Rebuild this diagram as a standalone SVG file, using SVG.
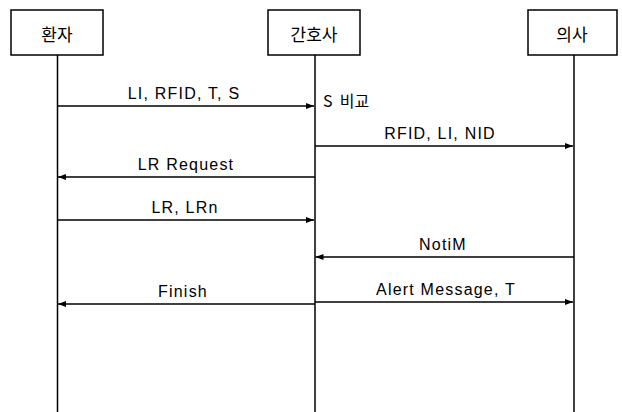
<svg xmlns="http://www.w3.org/2000/svg" width="622" height="412" viewBox="0 0 622 412">
<defs>
<marker id="ah" viewBox="0 0 8 6" refX="8" refY="3" markerWidth="8" markerHeight="6" markerUnits="userSpaceOnUse" orient="auto">
<path d="M0,0 L8,3 L0,6 Z" fill="#000"/>
</marker>
</defs>
<style>
.box{fill:#fff;stroke:#000;stroke-width:1.5}
.life{stroke:#000;stroke-width:1.5;fill:none}
.msg{stroke:#000;stroke-width:1.3;fill:none;marker-end:url(#ah)}
.nt{font-family:"Noto Sans CJK KR","Liberation Sans",sans-serif;font-size:17px;text-anchor:middle;dominant-baseline:central;fill:#000}
.lb{font-family:"Liberation Sans","Noto Sans CJK KR",sans-serif;font-size:16px;letter-spacing:1.2px;text-anchor:middle;fill:#000}
.nk{font-family:"Noto Sans CJK KR","Liberation Sans",sans-serif;font-size:16px;fill:#000}
</style>
<rect width="622" height="412" fill="#fff"/>
<g id="connectors">
<line class="life" x1="57.5" y1="55" x2="57.5" y2="412"/>
<line class="life" x1="315" y1="55" x2="315" y2="412"/>
<line class="life" x1="574" y1="55" x2="574" y2="412"/>
<line class="msg" x1="58" y1="106" x2="314" y2="106"/>
<text class="lb" x="184" y="99">LI, RFID, T, S</text>
<line class="msg" x1="315" y1="146" x2="573" y2="146"/>
<text class="lb" x="440" y="139">RFID, LI, NID</text>
<line class="msg" x1="315" y1="177" x2="58" y2="177"/>
<text class="lb" x="186" y="170">LR Request</text>
<line class="msg" x1="58" y1="220" x2="314" y2="220"/>
<text class="lb" x="185" y="213">LR, LRn</text>
<line class="msg" x1="574" y1="257" x2="315.5" y2="257"/>
<text class="lb" x="443" y="250">NotiM</text>
<line class="msg" x1="315" y1="304" x2="58" y2="304"/>
<text class="lb" x="183" y="297">Finish</text>
<line class="msg" x1="315" y1="302" x2="573" y2="302"/>
<text class="lb" x="446" y="295">Alert Message, T</text>
</g>
<g id="note-s">
<text class="nk" x="323" y="107" xml:space="preserve">S  비교</text>
</g>
<g id="patient">
<rect class="box" x="11" y="10" width="92" height="45"/>
<text class="nt" x="57" y="33">환자</text>
</g>
<g id="nurse">
<rect class="box" x="268" y="10" width="92" height="45"/>
<text class="nt" x="314" y="33">간호사</text>
</g>
<g id="doctor">
<rect class="box" x="528" y="10" width="89" height="45"/>
<text class="nt" x="572" y="33">의사</text>
</g>
</svg>
